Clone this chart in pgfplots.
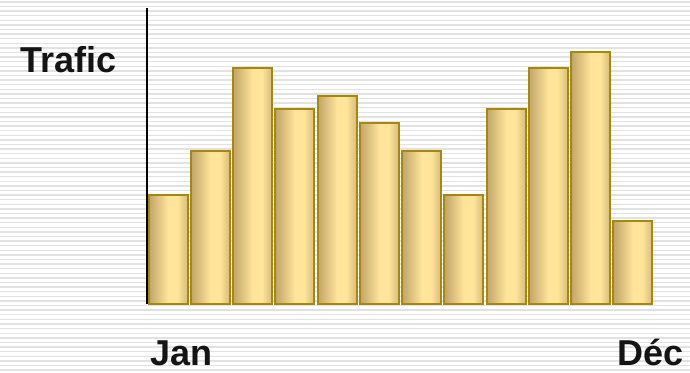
\documentclass[border=0pt]{standalone}
\usepackage{pgfplots}
\pgfplotsset{compat=1.18}
\usepackage{fontspec}
\setmainfont{Liberation Sans}
\definecolor{barDark}{HTML}{C0A46A}
\definecolor{barLight}{HTML}{FFE49A}
\definecolor{barMid}{HTML}{D6BC7C}
\definecolor{barEdge}{HTML}{A8870F}
\definecolor{stripe}{HTML}{E2E2E2}
\pgfdeclarehorizontalshading{barshade}{100bp}{color(0bp)=(barDark); color(25bp)=(barDark); color(50bp)=(barLight); color(62bp)=(barLight); color(75bp)=(barMid); color(100bp)=(barMid)}
\pgfplotsset{trafbar/.style={ybar, bar shift=0pt, bar width=39pt, draw=barEdge, line width=1.8pt, shading=barshade, mark=none}}
\begin{document}
\begin{tikzpicture}[x=1pt,y=1pt]
\useasboundingbox (0,0) rectangle (690,372);
\fill[white] (0,0) rectangle (690,372);
\foreach \yy in {2,6.6,...,372} {
  \draw[stripe, line width=1.4pt] (0,\yy) -- (690,\yy);
}
\begin{axis}[
  at={(147pt,68pt)}, anchor=origin,
  scale only axis, width=507pt, height=296pt,
  xmin=0.5, xmax=12.5, ymin=0, ymax=296,
  axis x line=none, axis y line*=left,
  y axis line style={black, line width=1.3pt},
  xtick=\empty, ytick=\empty,
  clip=false,
]
\addplot[trafbar] coordinates {(1,109)};
\addplot[trafbar] coordinates {(2,153)};
\addplot[trafbar] coordinates {(3,236)};
\addplot[trafbar] coordinates {(4,195)};
\addplot[trafbar] coordinates {(5,208)};
\addplot[trafbar] coordinates {(6,181)};
\addplot[trafbar] coordinates {(7,153)};
\addplot[trafbar] coordinates {(8,109)};
\addplot[trafbar] coordinates {(9,195)};
\addplot[trafbar] coordinates {(10,236)};
\addplot[trafbar] coordinates {(11,252)};
\addplot[trafbar] coordinates {(12,83)};
\end{axis}
\node[anchor=base west, inner sep=0pt, text=black!92] at (20,299) {\fontsize{36}{40}\selectfont\bfseries Trafic};
\node[anchor=base west, inner sep=0pt, text=black!92] at (150,7) {\fontsize{36}{40}\selectfont\bfseries Jan};
\node[anchor=base west, inner sep=0pt, text=black!92] at (617,7) {\fontsize{36}{40}\selectfont\bfseries Déc};
\end{tikzpicture}
\end{document}
